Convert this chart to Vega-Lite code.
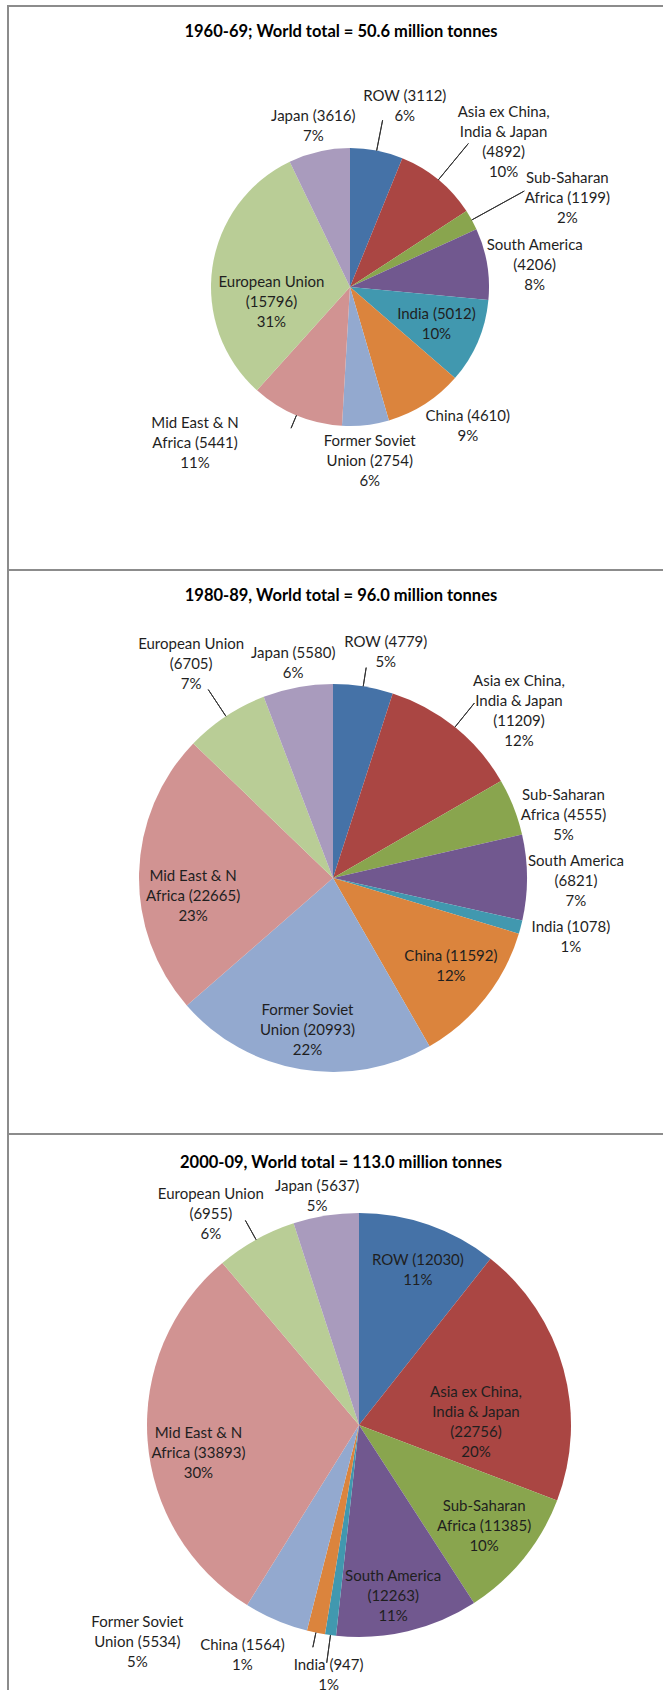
{
  "$schema": "https://vega.github.io/schema/vega-lite/v6.json",
  "padding": {"left": 7, "top": 5, "right": 0, "bottom": 0},
  "background": "white",
  "spacing": 0,
  "bounds": "flush",
  "config": {
    "view": {"stroke": "#8c8c8c", "strokeWidth": 2},
    "style": {"view": {"stroke": "#8c8c8c", "strokeWidth": 2}},
    "font": "Lato",
    "text": {"font": "Lato", "fontSize": 15, "lineHeight": 20, "lineBreak": "\n", "color": "#1f1f1f", "align": "center", "baseline": "middle"},
    "title": {"font": "Lato", "fontSize": 16.5, "fontWeight": "bold", "color": "#000000", "anchor": "middle", "dx": -7, "frame": "group"}
  },
  "datasets": {
    "d": [
      {"period": "1960-69", "region": "ROW", "value": 3112, "label": "ROW (3112)\n6%"},
      {"period": "1960-69", "region": "Asia ex China, India & Japan", "value": 4892, "label": "Asia ex China,\nIndia & Japan\n(4892)\n10%"},
      {"period": "1960-69", "region": "Sub-Saharan Africa", "value": 1199, "label": "Sub-Saharan\nAfrica (1199)\n2%"},
      {"period": "1960-69", "region": "South America", "value": 4206, "label": "South America\n(4206)\n8%"},
      {"period": "1960-69", "region": "India", "value": 5012, "label": "India (5012)\n10%"},
      {"period": "1960-69", "region": "China", "value": 4610, "label": "China (4610)\n9%"},
      {"period": "1960-69", "region": "Former Soviet Union", "value": 2754, "label": "Former Soviet\nUnion (2754)\n6%"},
      {"period": "1960-69", "region": "Mid East & N Africa", "value": 5441, "label": "Mid East & N\nAfrica (5441)\n11%"},
      {"period": "1960-69", "region": "European Union", "value": 15796, "label": "European Union\n(15796)\n31%"},
      {"period": "1960-69", "region": "Japan", "value": 3616, "label": "Japan (3616)\n7%"},
      {"period": "1980-89", "region": "ROW", "value": 4779, "label": "ROW (4779)\n5%"},
      {"period": "1980-89", "region": "Asia ex China, India & Japan", "value": 11209, "label": "Asia ex China,\nIndia & Japan\n(11209)\n12%"},
      {"period": "1980-89", "region": "Sub-Saharan Africa", "value": 4555, "label": "Sub-Saharan\nAfrica (4555)\n5%"},
      {"period": "1980-89", "region": "South America", "value": 6821, "label": "South America\n(6821)\n7%"},
      {"period": "1980-89", "region": "India", "value": 1078, "label": "India (1078)\n1%"},
      {"period": "1980-89", "region": "China", "value": 11592, "label": "China (11592)\n12%"},
      {"period": "1980-89", "region": "Former Soviet Union", "value": 20993, "label": "Former Soviet\nUnion (20993)\n22%"},
      {"period": "1980-89", "region": "Mid East & N Africa", "value": 22665, "label": "Mid East & N\nAfrica (22665)\n23%"},
      {"period": "1980-89", "region": "European Union", "value": 6705, "label": "European Union\n(6705)\n7%"},
      {"period": "1980-89", "region": "Japan", "value": 5580, "label": "Japan (5580)\n6%"},
      {"period": "2000-09", "region": "ROW", "value": 12030, "label": "ROW (12030)\n11%"},
      {"period": "2000-09", "region": "Asia ex China, India & Japan", "value": 22756, "label": "Asia ex China,\nIndia & Japan\n(22756)\n20%"},
      {"period": "2000-09", "region": "Sub-Saharan Africa", "value": 11385, "label": "Sub-Saharan\nAfrica (11385)\n10%"},
      {"period": "2000-09", "region": "South America", "value": 12263, "label": "South America\n(12263)\n11%"},
      {"period": "2000-09", "region": "India", "value": 947, "label": "India (947)\n1%"},
      {"period": "2000-09", "region": "China", "value": 1564, "label": "China (1564)\n1%"},
      {"period": "2000-09", "region": "Former Soviet Union", "value": 5534, "label": "Former Soviet\nUnion (5534)\n5%"},
      {"period": "2000-09", "region": "Mid East & N Africa", "value": 33893, "label": "Mid East & N\nAfrica (33893)\n30%"},
      {"period": "2000-09", "region": "European Union", "value": 6955, "label": "European Union\n(6955)\n6%"},
      {"period": "2000-09", "region": "Japan", "value": 5637, "label": "Japan (5637)\n5%"}
    ]
  },
  "data": {"name": "d"},
  "vconcat": [
    {
      "width": 680, "height": 564,
      "view": {"stroke": "#8c8c8c", "strokeWidth": 2},
      "title": {"text": "1960-69; World total = 50.6 million tonnes", "offset": -34},
      "transform": [{"filter": {"field": "period", "equal": "1960-69"}}, {"window": [{"op": "row_number", "as": "i"}]}],
      "encoding": {
        "theta": {"field": "value", "type": "quantitative", "stack": true},
        "order": {"field": "i", "type": "quantitative"}
      },
      "layer": [
        {"mark": {"type": "arc", "outerRadius": 139, "xOffset": 2, "yOffset": -1},
         "encoding": {"color": {"field": "region", "type": "nominal", "legend": null,
           "scale": {"domain": ["ROW", "Asia ex China, India & Japan", "Sub-Saharan Africa", "South America", "India", "China", "Former Soviet Union", "Mid East & N Africa", "European Union", "Japan"],
                     "range": ["#4572A7", "#AA4643", "#89A54E", "#71588F", "#4198AF", "#DB843D", "#93A9CF", "#D19392", "#B9CD96", "#A99BBD"]}}}},
        {"mark": {"type": "arc", "filled": false, "fillOpacity": 0, "stroke": "#333333", "strokeWidth": 1, "padAngle": 3, "innerRadius": 139, "outerRadius": 170, "xOffset": 2, "yOffset": -1},
         "encoding": {"strokeOpacity": {"condition": {"test": {"field": "region", "oneOf": ["ROW"]}, "value": 1}, "value": 0}}},
        {"mark": {"type": "arc", "filled": false, "fillOpacity": 0, "stroke": "#333333", "strokeWidth": 1, "padAngle": 3, "innerRadius": 139, "outerRadius": 186, "xOffset": 2, "yOffset": -1},
         "encoding": {"strokeOpacity": {"condition": {"test": {"field": "region", "oneOf": ["Asia ex China, India & Japan"]}, "value": 1}, "value": 0}}},
        {"mark": {"type": "arc", "filled": false, "fillOpacity": 0, "stroke": "#333333", "strokeWidth": 1, "padAngle": 3, "innerRadius": 139, "outerRadius": 199, "xOffset": 2, "yOffset": -1},
         "encoding": {"strokeOpacity": {"condition": {"test": {"field": "region", "oneOf": ["Sub-Saharan Africa"]}, "value": 1}, "value": 0}}},
        {"mark": {"type": "arc", "filled": false, "fillOpacity": 0, "stroke": "#333333", "strokeWidth": 1, "padAngle": 3, "innerRadius": 139, "outerRadius": 153, "xOffset": 2, "yOffset": -1},
         "encoding": {"strokeOpacity": {"condition": {"test": {"field": "region", "oneOf": ["Mid East & N Africa"]}, "value": 1}, "value": 0}}},
        {"mark": {"type": "text", "radius": 94, "thetaOffset": 0, "dy": -10, "xOffset": 2, "yOffset": -1},
         "encoding": {"text": {"condition": {"test": {"field": "region", "equal": "India"}, "field": "label", "type": "nominal"}, "value": ""}}},
        {"mark": {"type": "text", "radius": 80, "thetaOffset": -0.332, "dy": -20, "xOffset": 2, "yOffset": -1},
         "encoding": {"text": {"condition": {"test": {"field": "region", "equal": "European Union"}, "field": "label", "type": "nominal"}, "value": ""}}},
        {"mark": {"type": "text", "radius": 165, "thetaOffset": 0, "dy": -10, "xOffset": 2, "yOffset": -1},
         "encoding": {"text": {"condition": {"test": {"field": "region", "equal": "Japan"}, "field": "label", "type": "nominal"}, "value": ""}}},
        {"mark": {"type": "text", "radius": 175, "thetaOffset": 0, "dy": -20, "xOffset": 2, "yOffset": -1},
         "encoding": {"text": {"condition": {"test": {"field": "region", "equal": "Former Soviet Union"}, "field": "label", "type": "nominal"}, "value": ""}}},
        {"mark": {"type": "text", "radius": 186, "thetaOffset": 0.049, "dy": -20, "xOffset": 2, "yOffset": -1},
         "encoding": {"text": {"condition": {"test": {"field": "region", "equal": "South America"}, "field": "label", "type": "nominal"}, "value": ""}}},
        {"mark": {"type": "text", "radius": 189, "thetaOffset": 0.101, "dy": -10, "xOffset": 2, "yOffset": -1},
         "encoding": {"text": {"condition": {"test": {"field": "region", "equal": "ROW"}, "field": "label", "type": "nominal"}, "value": ""}}},
        {"mark": {"type": "text", "radius": 182, "thetaOffset": -0.134, "dy": -10, "xOffset": 2, "yOffset": -1},
         "encoding": {"text": {"condition": {"test": {"field": "region", "equal": "China"}, "field": "label", "type": "nominal"}, "value": ""}}},
        {"mark": {"type": "text", "radius": 211, "thetaOffset": 0.126, "dy": -30, "xOffset": 2, "yOffset": -1},
         "encoding": {"text": {"condition": {"test": {"field": "region", "equal": "Asia ex China, India & Japan"}, "field": "label", "type": "nominal"}, "value": ""}}},
        {"mark": {"type": "text", "radius": 235, "thetaOffset": 0.113, "dy": -20, "xOffset": 2, "yOffset": -1},
         "encoding": {"text": {"condition": {"test": {"field": "region", "equal": "Sub-Saharan Africa"}, "field": "label", "type": "nominal"}, "value": ""}}},
        {"mark": {"type": "text", "radius": 220, "thetaOffset": 0.386, "dy": -20, "xOffset": 2, "yOffset": -1},
         "encoding": {"text": {"condition": {"test": {"field": "region", "equal": "Mid East & N Africa"}, "field": "label", "type": "nominal"}, "value": ""}}}
      ]
    },
    {
      "width": 680, "height": 564,
      "view": {"stroke": "#8c8c8c", "strokeWidth": 2},
      "title": {"text": "1980-89, World total = 96.0 million tonnes", "offset": -34},
      "transform": [{"filter": {"field": "period", "equal": "1980-89"}}, {"window": [{"op": "row_number", "as": "i"}]}],
      "encoding": {
        "theta": {"field": "value", "type": "quantitative", "stack": true},
        "order": {"field": "i", "type": "quantitative"}
      },
      "layer": [
        {"mark": {"type": "arc", "outerRadius": 194, "xOffset": -15, "yOffset": 26},
         "encoding": {"color": {"field": "region", "type": "nominal", "legend": null,
           "scale": {"domain": ["ROW", "Asia ex China, India & Japan", "Sub-Saharan Africa", "South America", "India", "China", "Former Soviet Union", "Mid East & N Africa", "European Union", "Japan"],
                     "range": ["#4572A7", "#AA4643", "#89A54E", "#71588F", "#4198AF", "#DB843D", "#93A9CF", "#D19392", "#B9CD96", "#A99BBD"]}}}},
        {"mark": {"type": "arc", "filled": false, "fillOpacity": 0, "stroke": "#333333", "strokeWidth": 1, "padAngle": 3, "innerRadius": 194, "outerRadius": 213, "xOffset": -15, "yOffset": 26},
         "encoding": {"strokeOpacity": {"condition": {"test": {"field": "region", "oneOf": ["ROW"]}, "value": 1}, "value": 0}}},
        {"mark": {"type": "arc", "filled": false, "fillOpacity": 0, "stroke": "#333333", "strokeWidth": 1, "padAngle": 3, "innerRadius": 194, "outerRadius": 226, "xOffset": -15, "yOffset": 26},
         "encoding": {"strokeOpacity": {"condition": {"test": {"field": "region", "oneOf": ["European Union"]}, "value": 1}, "value": 0}}},
        {"mark": {"type": "arc", "filled": false, "fillOpacity": 0, "stroke": "#333333", "strokeWidth": 1, "padAngle": 3, "innerRadius": 194, "outerRadius": 225, "xOffset": -15, "yOffset": 26},
         "encoding": {"strokeOpacity": {"condition": {"test": {"field": "region", "oneOf": ["Asia ex China, India & Japan"]}, "value": 1}, "value": 0}}},
        {"mark": {"type": "text", "radius": 232, "thetaOffset": 0.073, "dy": -10, "xOffset": -15, "yOffset": 26},
         "encoding": {"text": {"condition": {"test": {"field": "region", "equal": "ROW"}, "field": "label", "type": "nominal"}, "value": ""}}},
        {"mark": {"type": "text", "radius": 219, "thetaOffset": 0, "dy": -10, "xOffset": -15, "yOffset": 26},
         "encoding": {"text": {"condition": {"test": {"field": "region", "equal": "Japan"}, "field": "label", "type": "nominal"}, "value": ""}}},
        {"mark": {"type": "text", "radius": 257, "thetaOffset": 0, "dy": -20, "xOffset": -15, "yOffset": 26},
         "encoding": {"text": {"condition": {"test": {"field": "region", "equal": "European Union"}, "field": "label", "type": "nominal"}, "value": ""}}},
        {"mark": {"type": "text", "radius": 250, "thetaOffset": 0.159, "dy": -30, "xOffset": -15, "yOffset": 26},
         "encoding": {"text": {"condition": {"test": {"field": "region", "equal": "Asia ex China, India & Japan"}, "field": "label", "type": "nominal"}, "value": ""}}},
        {"mark": {"type": "text", "radius": 239, "thetaOffset": 0.108, "dy": -20, "xOffset": -15, "yOffset": 26},
         "encoding": {"text": {"condition": {"test": {"field": "region", "equal": "Sub-Saharan Africa"}, "field": "label", "type": "nominal"}, "value": ""}}},
        {"mark": {"type": "text", "radius": 243, "thetaOffset": 0.016, "dy": -20, "xOffset": -15, "yOffset": 26},
         "encoding": {"text": {"condition": {"test": {"field": "region", "equal": "South America"}, "field": "label", "type": "nominal"}, "value": ""}}},
        {"mark": {"type": "text", "radius": 245, "thetaOffset": -0.014, "dy": -10, "xOffset": -15, "yOffset": 26},
         "encoding": {"text": {"condition": {"test": {"field": "region", "equal": "India"}, "field": "label", "type": "nominal"}, "value": ""}}},
        {"mark": {"type": "text", "radius": 147, "thetaOffset": -0.031, "dy": -10, "xOffset": -15, "yOffset": 26},
         "encoding": {"text": {"condition": {"test": {"field": "region", "equal": "China"}, "field": "label", "type": "nominal"}, "value": ""}}},
        {"mark": {"type": "text", "radius": 154, "thetaOffset": 0, "dy": -20, "xOffset": -15, "yOffset": 26},
         "encoding": {"text": {"condition": {"test": {"field": "region", "equal": "Former Soviet Union"}, "field": "label", "type": "nominal"}, "value": ""}}},
        {"mark": {"type": "text", "radius": 141, "thetaOffset": -0.152, "dy": -20, "xOffset": -15, "yOffset": 26},
         "encoding": {"text": {"condition": {"test": {"field": "region", "equal": "Mid East & N Africa"}, "field": "label", "type": "nominal"}, "value": ""}}}
      ]
    },
    {
      "width": 680, "height": 564,
      "view": {"stroke": "#8c8c8c", "strokeWidth": 2},
      "title": {"text": "2000-09, World total = 113.0 million tonnes", "offset": -37},
      "transform": [{"filter": {"field": "period", "equal": "2000-09"}}, {"window": [{"op": "row_number", "as": "i"}]}],
      "encoding": {
        "theta": {"field": "value", "type": "quantitative", "stack": true},
        "order": {"field": "i", "type": "quantitative"}
      },
      "layer": [
        {"mark": {"type": "arc", "outerRadius": 212, "xOffset": 11, "yOffset": 9},
         "encoding": {"color": {"field": "region", "type": "nominal", "legend": null,
           "scale": {"domain": ["ROW", "Asia ex China, India & Japan", "Sub-Saharan Africa", "South America", "India", "China", "Former Soviet Union", "Mid East & N Africa", "European Union", "Japan"],
                     "range": ["#4572A7", "#AA4643", "#89A54E", "#71588F", "#4198AF", "#DB843D", "#93A9CF", "#D19392", "#B9CD96", "#A99BBD"]}}}},
        {"mark": {"type": "arc", "filled": false, "fillOpacity": 0, "stroke": "#333333", "strokeWidth": 1, "padAngle": 3, "innerRadius": 212, "outerRadius": 234, "xOffset": 11, "yOffset": 9},
         "encoding": {"strokeOpacity": {"condition": {"test": {"field": "region", "oneOf": ["European Union"]}, "value": 1}, "value": 0}}},
        {"mark": {"type": "arc", "filled": false, "fillOpacity": 0, "stroke": "#333333", "strokeWidth": 1, "padAngle": 3, "innerRadius": 212, "outerRadius": 240, "xOffset": 11, "yOffset": 9},
         "encoding": {"strokeOpacity": {"condition": {"test": {"field": "region", "oneOf": ["India"]}, "value": 1}, "value": 0}}},
        {"mark": {"type": "arc", "filled": false, "fillOpacity": 0, "stroke": "#333333", "strokeWidth": 1, "padAngle": 3, "innerRadius": 212, "outerRadius": 227, "xOffset": 11, "yOffset": 9},
         "encoding": {"strokeOpacity": {"condition": {"test": {"field": "region", "oneOf": ["China"]}, "value": 1}, "value": 0}}},
        {"mark": {"type": "text", "radius": 166, "thetaOffset": 0.028, "dy": -10, "xOffset": 11, "yOffset": 9},
         "encoding": {"text": {"condition": {"test": {"field": "region", "equal": "ROW"}, "field": "label", "type": "nominal"}, "value": ""}}},
        {"mark": {"type": "text", "radius": 117, "thetaOffset": 0.243, "dy": -30, "xOffset": 11, "yOffset": 9},
         "encoding": {"text": {"condition": {"test": {"field": "region", "equal": "Asia ex China, India & Japan"}, "field": "label", "type": "nominal"}, "value": ""}}},
        {"mark": {"type": "text", "radius": 161, "thetaOffset": 0, "dy": -20, "xOffset": 11, "yOffset": 9},
         "encoding": {"text": {"condition": {"test": {"field": "region", "equal": "Sub-Saharan Africa"}, "field": "label", "type": "nominal"}, "value": ""}}},
        {"mark": {"type": "text", "radius": 174, "thetaOffset": 0.035, "dy": -20, "xOffset": 11, "yOffset": 9},
         "encoding": {"text": {"condition": {"test": {"field": "region", "equal": "South America"}, "field": "label", "type": "nominal"}, "value": ""}}},
        {"mark": {"type": "text", "radius": 163, "thetaOffset": -0.101, "dy": -20, "xOffset": 11, "yOffset": 9},
         "encoding": {"text": {"condition": {"test": {"field": "region", "equal": "Mid East & N Africa"}, "field": "label", "type": "nominal"}, "value": ""}}},
        {"mark": {"type": "text", "radius": 252, "thetaOffset": -0.014, "dy": -10, "xOffset": 11, "yOffset": 9},
         "encoding": {"text": {"condition": {"test": {"field": "region", "equal": "India"}, "field": "label", "type": "nominal"}, "value": ""}}},
        {"mark": {"type": "text", "radius": 258, "thetaOffset": 0.264, "dy": -10, "xOffset": 11, "yOffset": 9},
         "encoding": {"text": {"condition": {"test": {"field": "region", "equal": "China"}, "field": "label", "type": "nominal"}, "value": ""}}},
        {"mark": {"type": "text", "radius": 250, "thetaOffset": 0.394, "dx": -43, "dy": 22, "xOffset": 11, "yOffset": 9},
         "encoding": {"text": {"condition": {"test": {"field": "region", "equal": "Former Soviet Union"}, "field": "label", "type": "nominal"}, "value": ""}}},
        {"mark": {"type": "text", "radius": 258, "thetaOffset": -0.105, "dy": -20, "xOffset": 11, "yOffset": 9},
         "encoding": {"text": {"condition": {"test": {"field": "region", "equal": "European Union"}, "field": "label", "type": "nominal"}, "value": ""}}},
        {"mark": {"type": "text", "radius": 233, "thetaOffset": -0.024, "dy": -10, "xOffset": 11, "yOffset": 9},
         "encoding": {"text": {"condition": {"test": {"field": "region", "equal": "Japan"}, "field": "label", "type": "nominal"}, "value": ""}}}
      ]
    }
  ]
}
